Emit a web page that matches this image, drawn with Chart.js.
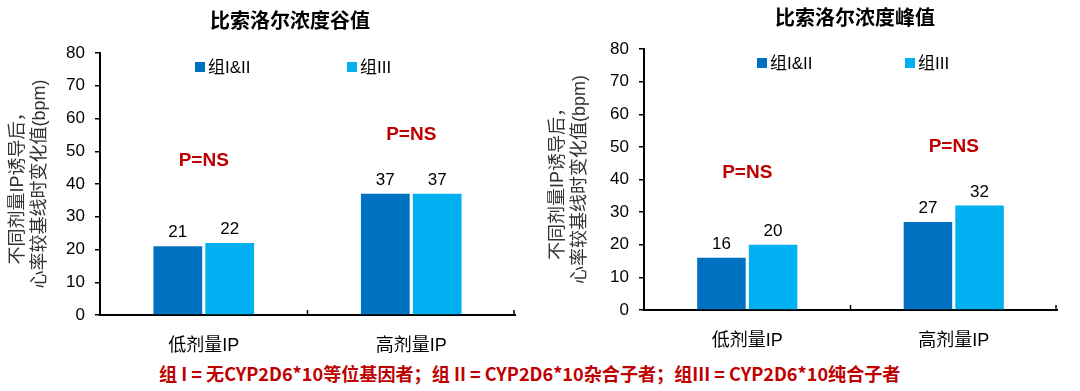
<!DOCTYPE html>
<html>
<head>
<meta charset="utf-8">
<script src="https://cdn.jsdelivr.net/npm/chart.js@4/dist/chart.umd.min.js"></script>
<style>
  html, body { margin: 0; padding: 0; background: #fff; }
  body { width: 1080px; height: 391px; position: relative; overflow: hidden; }
  .box { position: absolute; top: 0; width: 540px; height: 360px; }
  #note {
    position: absolute; top: 360px; left: 0; width: 1060px; text-align: center;
    font: bold 18px "Liberation Sans Narrow", "Noto Sans CJK SC", sans-serif;
    color: #C00000; white-space: nowrap;
  }
  #note span { display: inline-block; transform-origin: center; }
</style>
</head>
<body>
<div class="box" style="left:0"><canvas id="troughChart"></canvas></div>
<div class="box" style="left:540px"><canvas id="peakChart"></canvas></div>
<div id="note"><span>组 I = 无CYP2D6*10等位基因者；组 II = CYP2D6*10杂合子者；组III = CYP2D6*10纯合子者</span></div>
<script>
// data
const categories = ['低剂量IP', '高剂量IP'];
const seriesNames = ['组I&II', '组III'];
const troughI_II = [21, 37];
const troughIII = [22, 37];
const peakI_II = [16, 27];
const peakIII = [20, 32];
const pLabels = ['P=NS', 'P=NS'];
const troughPLevel = [47, 55];
const peakPLevel = [42, 50];
const yMin = 0, yMax = 80, yStep = 10;
const yTitle = ['不同剂量IP诱导后，', '心率较基线时变化值(bpm)'];

const DARK = '#0070C0';
const LIGHT = '#00B0F0';
const RED = '#C00000';
const FONT = '"Liberation Sans", "Noto Sans CJK SC", sans-serif';

// draws title, legend, value labels, P labels and y title
const overlay = {
    id: 'overlay',
    afterDraw(chart) {
        const o = chart.options.plugins.overlay;
        const ctx = chart.ctx;
        const area = chart.chartArea;
        const x = chart.scales.x, y = chart.scales.y;
        ctx.save();

        // title
        ctx.fillStyle = '#000';
        ctx.font = 'bold 20px ' + FONT;
        ctx.textAlign = 'center';
        ctx.textBaseline = 'middle';
        ctx.fillText(o.title, o.titleX, o.titleY);

        // legend
        ctx.font = '17px ' + FONT;
        ctx.textAlign = 'left';
        chart.data.datasets.forEach((ds, i) => {
            const lx = o.legendX[i];
            ctx.fillStyle = ds.backgroundColor;
            ctx.fillRect(lx, o.legendY - 5, 10, 10);
            ctx.fillStyle = '#000';
            ctx.fillText(ds.label, lx + 13, o.legendY + 1);
        });

        // value labels
        ctx.font = '17px ' + FONT;
        ctx.textAlign = 'center';
        ctx.textBaseline = 'alphabetic';
        chart.data.datasets.forEach((ds, i) => {
            chart.getDatasetMeta(i).data.forEach((bar, j) => {
                ctx.fillText(String(ds.data[j]), bar.x, bar.y - 9);
            });
        });

        // P labels
        ctx.font = 'bold 19px ' + FONT;
        ctx.fillStyle = RED;
        ctx.textBaseline = 'middle';
        categories.forEach((c, j) => {
            ctx.fillText(pLabels[j], x.getPixelForValue(j), y.getPixelForValue(o.pLevel[j]));
        });

        // y axis title
        ctx.fillStyle = '#333';
        ctx.font = '18px ' + FONT;
        const cy = (area.top + area.bottom) / 2;
        yTitle.forEach((line, k) => {
            ctx.save();
            ctx.translate(o.yTitleX[k], cy);
            ctx.rotate(-Math.PI / 2);
            ctx.fillText(line, 0, 0);
            ctx.restore();
        });

        // small upward tick marks on the category axis
        ctx.strokeStyle = '#000';
        ctx.lineWidth = 1.5;
        const marks = [(x.getPixelForValue(0) + x.getPixelForValue(1)) / 2, area.right - 1];
        marks.forEach(mx => {
            ctx.beginPath();
            ctx.moveTo(mx, area.bottom);
            ctx.lineTo(mx, area.bottom - 5);
            ctx.stroke();
        });
        ctx.restore();
    }
};

function makeChart(id, dataA, dataB, o) {
    return new Chart(document.getElementById(id), {
        type: 'bar',
        data: {
            labels: categories,
            datasets: [
                { label: seriesNames[0], data: dataA, backgroundColor: DARK },
                { label: seriesNames[1], data: dataB, backgroundColor: LIGHT }
            ]
        },
        options: {
            responsive: true,
            maintainAspectRatio: false,
            animation: false,
            categoryPercentage: 0.5,
            barPercentage: 0.94,
            layout: { padding: { top: o.area.top, right: 540 - o.area.right, left: 0, bottom: 0 } },
            plugins: {
                legend: { display: false },
                tooltip: { enabled: false },
                overlay: o
            },
            scales: {
                x: {
                    afterFit: s => { s.height = 360 - o.area.bottom; },
                    grid: { display: false },
                    border: { display: true, color: '#000', width: 2 },
                    ticks: { color: '#000', font: { size: 18, family: FONT }, padding: 12 }
                },
                y: {
                    min: yMin, max: yMax,
                    afterFit: s => { s.width = o.area.left; },
                    grid: { drawOnChartArea: false, drawTicks: true, tickLength: 5, color: '#000', lineWidth: 1.5 },
                    border: { display: true, color: '#000', width: 2 },
                    ticks: { stepSize: yStep, color: '#000', font: { size: 17, family: FONT }, padding: 10 }
                }
            }
        },
        plugins: [overlay]
    });
}

makeChart('troughChart', troughI_II, troughIII, {
    title: '比索洛尔浓度谷值', titleX: 290, titleY: 22,
    legendX: [195, 347], legendY: 67,
    pLevel: troughPLevel, yTitleX: [18, 40],
    area: { left: 100, right: 515, top: 53, bottom: 315 }
});

makeChart('peakChart', peakI_II, peakIII, {
    title: '比索洛尔浓度峰值', titleX: 315, titleY: 19,
    legendX: [217, 365], legendY: 63,
    pLevel: peakPLevel, yTitleX: [18, 40],
    area: { left: 104, right: 517, top: 49, bottom: 310 }
});

// stretch footnote to the reference width
const span = document.querySelector('#note span');
span.style.transform = 'scaleX(' + (741 / span.offsetWidth) + ')';
</script>
</body>
</html>
